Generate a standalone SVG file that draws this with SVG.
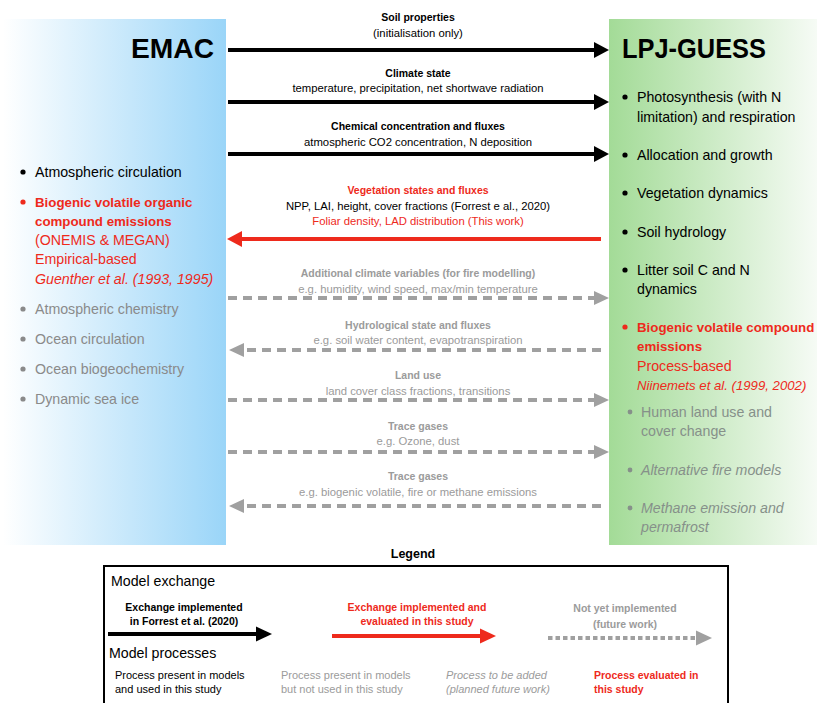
<svg xmlns="http://www.w3.org/2000/svg" width="817" height="703" viewBox="0 0 817 703">
<defs>
<linearGradient id="gBlue" x1="0" y1="0" x2="1" y2="0">
<stop offset="0" stop-color="#ffffff"/>
<stop offset="1" stop-color="#9ad5f8"/>
</linearGradient>
<linearGradient id="gGreen" x1="0" y1="0" x2="1" y2="0">
<stop offset="0" stop-color="#a3db97"/>
<stop offset="1" stop-color="#f6fbf5"/>
</linearGradient>
<style>
text{font-family:"Liberation Sans",Arial,sans-serif;}
.lab{font-size:11.3px;text-anchor:middle;}
.lab.b{font-size:10.5px;}
.b{font-weight:bold;}
.i{font-style:italic;}
.blk{fill:#000;}
.red{fill:#ee2a1c;}
.gry{fill:#9b9b9b;}
.lg{fill:#8a8a8a;}
.rg{fill:#86908a;}
.item{font-size:14.2px;}
.item.b{font-size:13.3px;}
.small{font-size:11px;}
.small.b{font-size:10.5px;}
.title{font-size:28px;font-weight:bold;fill:#000;}
.sol{stroke:#000;stroke-width:4;fill:none;}
.solr{stroke:#ee2a1c;stroke-width:4;fill:none;}
.dash{stroke:#a0a0a0;stroke-width:4;fill:none;stroke-dasharray:9 6;}
.dot{stroke:#a0a0a0;stroke-width:4;fill:none;stroke-dasharray:4.5 3;}
</style>
</defs>
<rect width="817" height="703" fill="#ffffff"/>

<g id="emac">
<rect x="3" y="19" width="223" height="526" fill="url(#gBlue)"/>
<text class="title" x="214" y="58" text-anchor="end" textLength="83" lengthAdjust="spacingAndGlyphs">EMAC</text>
<circle cx="23" cy="172" r="2.6" fill="#000"/>
<text class="item blk" x="35" y="177">Atmospheric circulation</text>
<circle cx="23" cy="202" r="2.6" fill="#ee2a1c"/>
<text class="item red b" x="35" y="207">Biogenic volatile organic</text>
<text class="item red b" x="35" y="226">compound emissions</text>
<text class="item red" x="35" y="245">(ONEMIS &amp; MEGAN)</text>
<text class="item red" x="35" y="264">Empirical-based</text>
<text class="item red i" x="35" y="284">Guenther et al. (1993, 1995)</text>
<circle cx="23" cy="309" r="2.6" fill="#8a8a8a"/>
<text class="item lg" x="35" y="314">Atmospheric chemistry</text>
<circle cx="23" cy="339" r="2.6" fill="#8a8a8a"/>
<text class="item lg" x="35" y="344">Ocean circulation</text>
<circle cx="23" cy="369" r="2.6" fill="#8a8a8a"/>
<text class="item lg" x="35" y="374">Ocean biogeochemistry</text>
<circle cx="23" cy="399" r="2.6" fill="#8a8a8a"/>
<text class="item lg" x="35" y="404">Dynamic sea ice</text>
</g>

<g id="lpjguess">
<rect x="609" y="19" width="208" height="526" fill="url(#gGreen)"/>
<text class="title" x="622" y="58" textLength="144" lengthAdjust="spacingAndGlyphs">LPJ-GUESS</text>
<circle cx="625" cy="97" r="2.6" fill="#000"/>
<text class="item blk" x="637" y="102">Photosynthesis (with N</text>
<text class="item blk" x="637" y="122">limitation) and respiration</text>
<circle cx="625" cy="155" r="2.6" fill="#000"/>
<text class="item blk" x="637" y="160">Allocation and growth</text>
<circle cx="625" cy="193" r="2.6" fill="#000"/>
<text class="item blk" x="637" y="198">Vegetation dynamics</text>
<circle cx="625" cy="232" r="2.6" fill="#000"/>
<text class="item blk" x="637" y="237">Soil hydrology</text>
<circle cx="625" cy="270" r="2.6" fill="#000"/>
<text class="item blk" x="637" y="275">Litter soil C and N</text>
<text class="item blk" x="637" y="294">dynamics</text>
<circle cx="625" cy="327" r="2.6" fill="#ee2a1c"/>
<text class="item red b" x="637" y="332">Biogenic volatile compound</text>
<text class="item red b" x="637" y="351">emissions</text>
<text class="item red" x="637" y="371">Process-based</text>
<text class="red i" x="637" y="390" font-size="13.2">Niinemets et al. (1999, 2002)</text>
<circle cx="630" cy="412" r="2.4" fill="#86908a"/>
<text class="item rg" x="641" y="417">Human land use and</text>
<text class="item rg" x="641" y="436">cover change</text>
<circle cx="630" cy="470" r="2.4" fill="#86908a"/>
<text class="item rg i" x="641" y="475">Alternative fire models</text>
<circle cx="630" cy="508" r="2.4" fill="#86908a"/>
<text class="item rg i" x="641" y="513">Methane emission and</text>
<text class="item rg i" x="641" y="532">permafrost</text>
</g>

<g id="connectors">
<line class="sol" x1="228" y1="50" x2="595" y2="50"/>
<polygon points="594,42 609,50 594,58" fill="#000"/>
<line class="sol" x1="228" y1="102" x2="595" y2="102"/>
<polygon points="594,94 609,102 594,110" fill="#000"/>
<line class="sol" x1="228" y1="154" x2="595" y2="154"/>
<polygon points="594,146 609,154 594,162" fill="#000"/>
<line class="solr" x1="601" y1="239" x2="240" y2="239"/>
<polygon points="242,231 227,239 242,247" fill="#ee2a1c"/>
<line class="dash" x1="228" y1="298" x2="594" y2="298"/>
<polygon points="594,291 609,298 594,305" fill="#a0a0a0"/>
<line class="dash" x1="601" y1="350" x2="244" y2="350"/>
<polygon points="244,343 229,350 244,357" fill="#a0a0a0"/>
<line class="dash" x1="228" y1="400" x2="594" y2="400"/>
<polygon points="594,393 609,400 594,407" fill="#a0a0a0"/>
<line class="dash" x1="228" y1="452" x2="594" y2="452"/>
<polygon points="594,445 609,452 594,459" fill="#a0a0a0"/>
<line class="dash" x1="601" y1="506" x2="244" y2="506"/>
<polygon points="244,499 229,506 244,513" fill="#a0a0a0"/>
</g>

<g id="labels">
<text class="lab b blk" x="418" y="21">Soil properties</text>
<text class="lab blk" x="418" y="37">(initialisation only)</text>
<text class="lab b blk" x="418" y="77">Climate state</text>
<text class="lab blk" x="418" y="92">temperature, precipitation, net shortwave radiation</text>
<text class="lab b blk" x="418" y="130">Chemical concentration and fluxes</text>
<text class="lab blk" x="418" y="146">atmospheric CO2 concentration, N deposition</text>
<text class="lab b red" x="418" y="194">Vegetation states and fluxes</text>
<text class="lab blk" x="418" y="210">NPP, LAI, height, cover fractions (Forrest e al., 2020)</text>
<text class="lab red" x="418" y="225">Foliar density, LAD distribution (This work)</text>
<text class="lab b gry" x="418" y="277">Additional climate variables (for fire modelling)</text>
<text class="lab gry" x="418" y="293">e.g. humidity, wind speed, max/min temperature</text>
<text class="lab b gry" x="418" y="329">Hydrological state and fluxes</text>
<text class="lab gry" x="418" y="344">e.g. soil water content, evapotranspiration</text>
<text class="lab b gry" x="418" y="379">Land use</text>
<text class="lab gry" x="418" y="395">land cover class fractions, transitions</text>
<text class="lab b gry" x="418" y="430">Trace gases</text>
<text class="lab gry" x="418" y="445">e.g. Ozone, dust</text>
<text class="lab b gry" x="418" y="480">Trace gases</text>
<text class="lab gry" x="418" y="496">e.g. biogenic volatile, fire or methane emissions</text>
</g>

<g id="legend">
<text class="b blk" x="413" y="558" font-size="12.5" text-anchor="middle">Legend</text>
<rect x="104" y="566" width="624" height="150" fill="none" stroke="#000" stroke-width="2"/>
<text class="item blk" x="111" y="586">Model exchange</text>
<text class="small b blk" x="184" y="611" text-anchor="middle">Exchange implemented</text>
<text class="small b blk" x="184" y="625" text-anchor="middle">in Forrest et al. (2020)</text>
<line class="sol" x1="108" y1="634" x2="257" y2="634"/>
<polygon points="256,626.5 272,634 256,641.5" fill="#000"/>
<text class="small b red" x="417" y="611" text-anchor="middle">Exchange implemented and</text>
<text class="small b red" x="417" y="625" text-anchor="middle">evaluated in this study</text>
<line class="solr" x1="332" y1="636" x2="481" y2="636"/>
<polygon points="480,628.5 496,636 480,643.5" fill="#ee2a1c"/>
<text class="small b gry" x="625" y="612" text-anchor="middle">Not yet implemented</text>
<text class="small b gry" x="625" y="628" text-anchor="middle">(future work)</text>
<line class="dot" x1="548" y1="638" x2="696" y2="638"/>
<polygon points="696,630.5 712,638 696,645.5" fill="#a0a0a0"/>
<text class="item blk" x="109" y="658">Model processes</text>
<text class="small blk" x="115" y="679">Process present in models</text>
<text class="small blk" x="115" y="693">and used in this study</text>
<text class="small gry" x="281" y="679">Process present in models</text>
<text class="small gry" x="281" y="693">but not used in this study</text>
<text class="small gry i" x="446" y="679">Process to be added</text>
<text class="small gry i" x="446" y="693">(planned future work)</text>
<text class="small red b" x="594" y="679">Process evaluated in</text>
<text class="small red b" x="594" y="693">this study</text>
</g>
</svg>
